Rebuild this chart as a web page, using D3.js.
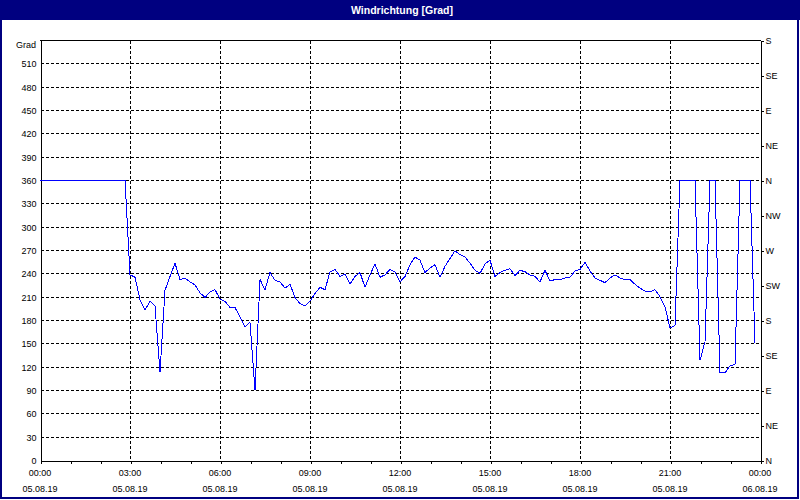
<!DOCTYPE html>
<html><head><meta charset="utf-8">
<script src="https://cdn.jsdelivr.net/npm/d3@7"></script>
<style>
body{margin:0;background:#fff}
text{font-family:"Liberation Sans",Arial,sans-serif}
</style>
</head><body><svg id="c" width="800" height="500"></svg>
<script>
const chartTitle = "Windrichtung [Grad]";
const yUnit = "Grad";
const startTime = new Date(2019, 7, 5, 0, 0);
const endTime = new Date(2019, 7, 6, 0, 0);
const stepMinutes = 10;
// wind direction in degrees, one value per 10 minutes from 05.08.19 00:00
const direction = [
  360,360,360,360,360,360,360,360,360,360,360,360,360,360,360,360,360,360,
  238,235,206,193,204,198,113,218,236,253,232,234,229,225,215,209,216,219,
  207,204,196,196,184,171,177,90,232,219,241,231,229,221,226,209,201,198,
  204,214,222,219,242,245,236,239,226,236,241,222,238,252,235,238,245,242,
  229,236,251,261,257,241,247,251,235,249,259,269,264,261,253,244,240,252,
  257,236,241,244,246,237,244,242,238,236,229,244,230,232,232,234,235,243,
  245,254,243,234,231,228,234,238,234,232,232,226,221,217,216,219,210,197,
  170,173,360,360,360,360,128,152,360,360,112,112,121,123,360,360,360,150
];
const yTicks = [0,30,60,90,120,150,180,210,240,270,300,330,360,390,420,450,480,510];
const compassTicks = [0,45,90,135,180,225,270,315,360,405,450,495,540];
const compassLabels = ["N","NE","E","SE","S","SW","W","NW","N","NE","E","SE","S"];

const L = 40, R = 760, T = 40, B = 460;
const svg = d3.select("#c");
const times = direction.map((v, i) => new Date(startTime.getTime() + i * stepMinutes * 60000));

const x = d3.scaleTime().domain([startTime, endTime]).range([L, R]);
const y = d3.scaleLinear().domain([0, 540]).range([B, T]);
const snap = v => Math.round(v) + 0.5;

svg.append("rect").attr("width", 800).attr("height", 500).attr("fill", "#fff");
// title bar
svg.append("rect").attr("x", 0).attr("y", 0).attr("width", 800).attr("height", 20).attr("fill", "#000080");
svg.append("text").attr("x", 402).attr("y", 14).attr("text-anchor", "middle")
  .attr("fill", "#fff").attr("font-weight", "bold").attr("font-size", "10.5px").text(chartTitle);
// outer border
svg.append("rect").attr("x", 1).attr("y", 1).attr("width", 797).attr("height", 497)
  .attr("fill", "none").attr("stroke", "#000080").attr("stroke-width", 2);

// grid
const grid = svg.append("g").attr("stroke", "#000").attr("stroke-dasharray", "3,2")
  .attr("shape-rendering", "crispEdges");
grid.selectAll(".h").data(yTicks.filter(d => d > 0)).join("line")
  .attr("x1", L + 1).attr("x2", R).attr("y1", d => snap(y(d))).attr("y2", d => snap(y(d)));
const vTicks = d3.timeHour.every(3).range(startTime, endTime).filter(d => +d > +startTime);
grid.selectAll(".v").data(vTicks).join("line")
  .attr("y1", T + 1).attr("y2", B).attr("x1", d => snap(x(d))).attr("x2", d => snap(x(d)));

// frame lines
const frame = svg.append("g").attr("stroke", "#000").attr("shape-rendering", "crispEdges");
frame.append("line").attr("x1", L).attr("x2", R + 1).attr("y1", T + 0.5).attr("y2", T + 0.5);

// bottom axis
const xAxis = svg.append("g").attr("transform", `translate(0.5,${B + 0.5})`)
  .call(d3.axisBottom(x).ticks(d3.timeHour.every(1)).tickSize(3).tickFormat("").tickSizeOuter(0));
const xLab = svg.append("g").attr("font-size", "9px").attr("text-anchor", "middle").attr("fill", "#000");
const majorTimes = d3.timeHour.every(3).range(startTime, new Date(endTime.getTime() + 1));
xLab.selectAll(".t").data(majorTimes).join("text")
  .attr("x", d => x(d)).attr("y", 476).text(d3.timeFormat("%H:%M"));
xLab.selectAll(".d").data(majorTimes).join("text")
  .attr("x", d => x(d)).attr("y", 492).text(d3.timeFormat("%d.%m.%y"));

// left axis
const yAxis = svg.append("g").attr("transform", `translate(${L + 0.5},0.5)`)
  .call(d3.axisLeft(y).tickValues(yTicks).tickSize(0).tickPadding(4).tickSizeOuter(0));
svg.append("text").attr("x", 36).attr("y", 48).attr("text-anchor", "end")
  .attr("font-size", "9px").attr("fill", "#000").text(yUnit);

// right axis
const rAxis = svg.append("g").attr("transform", `translate(${R + 0.5},0.5)`)
  .call(d3.axisRight(y).tickValues(compassTicks).tickSize(3).tickPadding(2)
    .tickFormat((d, i) => compassLabels[i]).tickSizeOuter(0));

[xAxis, yAxis, rAxis].forEach(g => {
  g.attr("shape-rendering", "crispEdges");
  g.selectAll("text").attr("font-size", "9px").attr("font-family", "Liberation Sans, Arial, sans-serif").attr("fill", "#000");
  g.select(".domain").attr("stroke", "#000");
});

// data line
const line = d3.line().x((d, i) => x(times[i])).y(d => y(d));
svg.append("path").datum(direction).attr("d", line)
  .attr("fill", "none").attr("stroke", "#0000ff").attr("stroke-width", 1)
  .attr("shape-rendering", "crispEdges");
</script>
</body></html>
